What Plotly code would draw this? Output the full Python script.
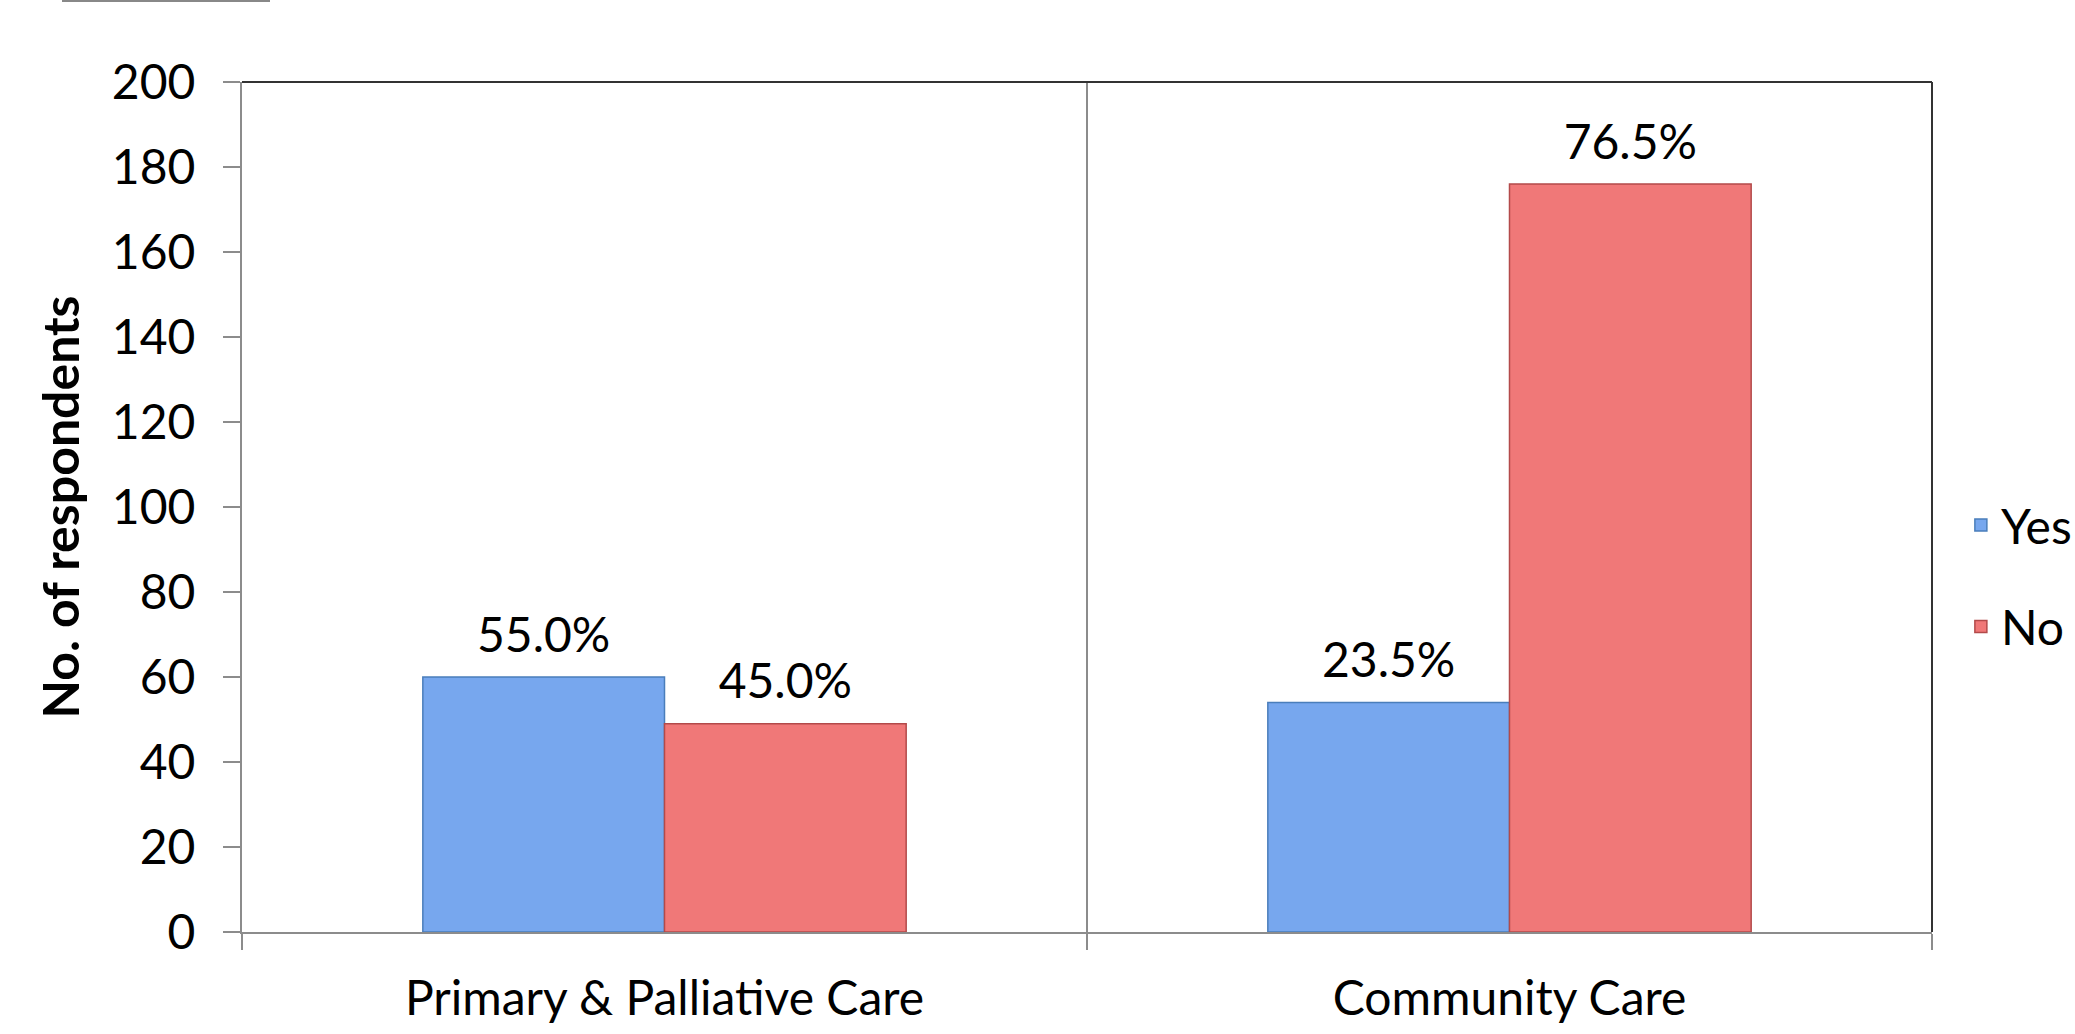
import plotly.graph_objects as go

categories = ["Primary & Palliative Care", "Community Care"]
yes_values = [60, 54]
no_values = [49, 176]
yes_labels = ["55.0%", "23.5%"]
no_labels = ["45.0%", "76.5%"]
y_ticks = [0, 20, 40, 60, 80, 100, 120, 140, 160, 180, 200]

FONT = "Lato, Carlito, Calibri, sans-serif"
FS = 48

fig = go.Figure()
fig.add_trace(go.Bar(
    name="Yes", x=categories, y=yes_values,
    marker=dict(color="#77a7ee", line=dict(color="#4a7ebb", width=1.5)),
    legendgroup="yes", offsetgroup="yes",
))
fig.add_trace(go.Bar(
    name="No", x=categories, y=no_values,
    marker=dict(color="#f07878", line=dict(color="#b34a4a", width=1.5)),
    legendgroup="no", offsetgroup="no",
))
# data labels placed above bars (invisible marker sets the gap)
for vals, labs, grp in [(yes_values, yes_labels, "yes"), (no_values, no_labels, "no")]:
    fig.add_trace(go.Scatter(
        x=categories, y=vals, text=labs, mode="markers+text",
        textposition="top center", offsetgroup=grp, cliponaxis=False,
        textfont=dict(family=FONT, size=FS, color="black"),
        marker=dict(size=20, color="rgba(0,0,0,0)"),
        showlegend=False, hoverinfo="skip",
    ))

fig.update_layout(
    width=2075, height=1034,
    margin=dict(l=242, r=143, t=82, b=102, autoexpand=False),
    paper_bgcolor="white", plot_bgcolor="white",
    barmode="group", bargap=0.428, bargroupgap=0,
    scattermode="group", scattergap=0.428,
    font=dict(family=FONT, size=FS, color="black"),
    showlegend=True,
    legend=dict(
        xref="container", x=0.945, xanchor="left",
        yref="paper", y=0.419, yanchor="middle",
        font=dict(family=FONT, size=FS, color="black"),
        tracegroupgap=36, bgcolor="rgba(0,0,0,0)",
    ),
    xaxis=dict(
        type="category", tickson="boundaries",
        showgrid=True, gridcolor="#8c8c8c", gridwidth=1.5,
        showline=True, linecolor="#8c8c8c", linewidth=2,
        ticks="outside", ticklen=16, tickcolor="#8c8c8c", tickwidth=1.5,
        tickfont=dict(family=FONT, size=FS, color="black"),
        ticklabelstandoff=23,
        range=[-0.5, 1.5], automargin=False,
    ),
    yaxis=dict(
        range=[0, 200], tickvals=y_ticks,
        showgrid=False, zeroline=False,
        showline=True, linecolor="#8c8c8c", linewidth=2,
        ticks="outside", ticklen=17, tickcolor="#8c8c8c", tickwidth=1.5,
        tickfont=dict(family=FONT, size=FS, color="black"),
        ticklabelstandoff=18,
        title=dict(text="<b>No. of respondents</b>", font=dict(family=FONT, size=50, color="black"), standoff=16),
        automargin=False,
    ),
    shapes=[
        dict(type="line", xref="paper", yref="paper", x0=0, x1=1, y0=1, y1=1,
             line=dict(color="#333333", width=2)),
        dict(type="line", xref="paper", yref="paper", x0=1, x1=1, y0=0, y1=1,
             line=dict(color="#333333", width=2)),
        dict(type="line", xref="paper", yref="paper",
             x0=(62 - 242) / 1690, x1=(270 - 242) / 1690,
             y0=(932 - 1) / 850, y1=(932 - 1) / 850,
             line=dict(color="#888888", width=2)),
    ],
)

fig.write_html("out.html")
